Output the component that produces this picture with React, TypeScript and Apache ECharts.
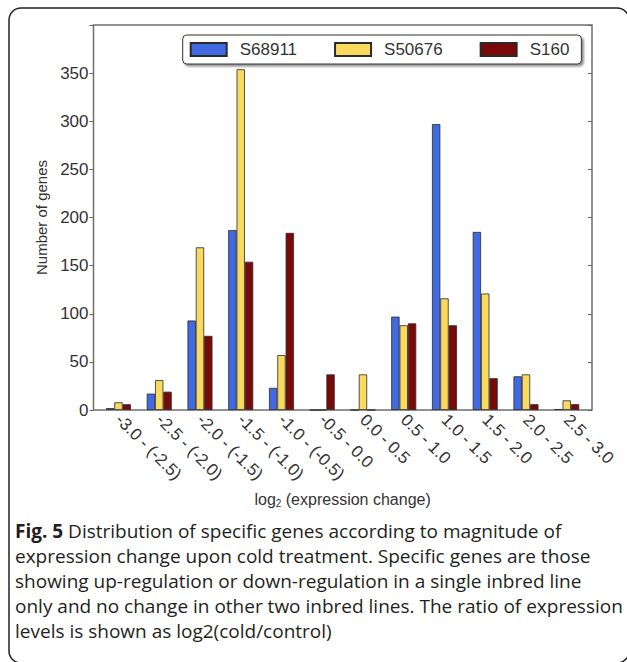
import React, { useEffect, useRef } from "react";
import * as echarts from "echarts";

// log2(cold/control) bins
const categories = [
  "-3.0 - (-2.5)",
  "-2.5 - (-2.0)",
  "-2.0 - (-1.5)",
  "-1.5 - (-1.0)",
  "-1.0 - (-0.5)",
  "-0.5 - 0.0",
  "0.0 - 0.5",
  "0.5 - 1.0",
  "1.0 - 1.5",
  "1.5 - 2.0",
  "2.0 - 2.5",
  "2.5 - 3.0",
];

// Number of specific genes per bin for each inbred line
const s68911 = [2, 17, 93, 187, 23, 0, 0, 97, 297, 185, 35, 1];
const s50676 = [8, 31, 169, 354, 57, 0, 37, 88, 116, 121, 37, 10];
const s160 = [6, 19, 77, 154, 184, 37, 0, 90, 88, 33, 6, 6];

const seriesNames = ["S68911", "S50676", "S160"];
const seriesColors = ["#4169e1", "#f9da5f", "#7a0a0a"];

const captionLines = [
  "{b|Fig. 5} Distribution of specific genes according to magnitude of",
  "expression change upon cold treatment. Specific genes are those",
  "showing up-regulation or down-regulation in a single inbred line",
  "only and no change in other two inbred lines. The ratio of expression",
  "levels is shown as log2(cold/control)",
];

const FONT = "'Liberation Sans', Arial, Helvetica, sans-serif";
const CAPTION_FONT = "'Open Sans', 'Noto Sans', sans-serif";

export default function App() {
  const ref = useRef<HTMLDivElement>(null);

  useEffect(() => {
    if (!ref.current) return;
    const chart = echarts.init(ref.current, undefined, { renderer: "svg" });

    const values = [s68911, s50676, s160];

    const option: any = {
      animation: false,
      backgroundColor: "#ffffff",
      textStyle: { fontFamily: FONT },
      grid: [
        // axes frame
        {
          left: 93.5,
          right: 35,
          top: 25,
          bottom: 252,
          show: true,
          borderColor: "#6e6e6e",
          borderWidth: 1.5,
          backgroundColor: "transparent",
        },
        // bar area (slightly inset like the plotting library's x limits)
        { left: 98.1, right: 39.9, top: 25, bottom: 252 },
      ],
      xAxis: [
        { gridIndex: 0, type: "value", show: false, min: 0, max: 1 },
        {
          gridIndex: 1,
          type: "category",
          data: categories,
          axisLine: { show: false },
          axisTick: { show: false },
          axisLabel: {
            interval: 0,
            rotate: -45,
            margin: 7,
            fontSize: 17,
            color: "#333",
            fontFamily: FONT,
          },
          name: "log{s|2} (expression change)",
          nameLocation: "middle",
          nameGap: 80,
          nameTextStyle: {
            fontSize: 16,
            color: "#333",
            fontFamily: FONT,
            rich: { s: { fontSize: 10, verticalAlign: "bottom", padding: [8, 0, 0, 0], color: "#333" } },
          },
        },
      ],
      yAxis: [
        {
          gridIndex: 0,
          type: "value",
          min: 0,
          max: 400,
          interval: 50,
          axisLine: { show: false },
          axisTick: { show: true, inside: false, length: 4, lineStyle: { color: "#666" } },
          axisLabel: {
            fontSize: 17,
            color: "#333",
            margin: 5,
            fontFamily: FONT,
            formatter: (v: number) => (v >= 400 ? "" : String(v)),
          },
          splitLine: { show: false },
          name: "Number of genes",
          nameLocation: "middle",
          nameGap: 44,
          nameTextStyle: { fontSize: 15, color: "#333", fontFamily: FONT },
        },
        {
          gridIndex: 0,
          type: "value",
          position: "right",
          min: 0,
          max: 400,
          interval: 50,
          axisLine: { show: false },
          axisTick: { show: true, inside: true, length: 4, lineStyle: { color: "#666" } },
          axisLabel: { show: false },
          splitLine: { show: false },
        },
        { gridIndex: 1, type: "value", min: 0, max: 400, show: false },
      ],
      legend: {
        data: seriesNames,
        left: 182.7,
        top: 35,
        orient: "horizontal",
        icon: "rect",
        itemWidth: 36,
        itemHeight: 13,
        itemGap: 37,
        padding: [6, 12, 6, 7],
        backgroundColor: "#ffffff",
        borderColor: "#333",
        borderWidth: 1,
        borderRadius: 4,
        shadowColor: "rgba(0,0,0,0.45)",
        shadowBlur: 2,
        shadowOffsetX: 2,
        shadowOffsetY: 2,
        textStyle: { fontSize: 17, color: "#333", fontFamily: FONT, padding: [0, 0, 0, 8] },
      },
      series: seriesNames.map((name, i) => ({
        name,
        type: "bar",
        xAxisIndex: 1,
        yAxisIndex: 2,
        data: values[i],
        barWidth: 8.33,
        barGap: "0%",
        itemStyle: { color: seriesColors[i], borderColor: "#2a2a2a", borderWidth: 0.8 },
      })),
      graphic: [
        {
          type: "rect",
          shape: { x: 9, y: 8, width: 620, height: 655, r: 12 },
          style: { fill: "none", stroke: "#222", lineWidth: 1.5 },
          silent: true,
        },
        ...captionLines.map((line, i) => ({
          type: "text",
          left: 15,
          top: 521 + i * 25,
          style: {
            text: line,
            fontSize: 19,
            fontFamily: CAPTION_FONT,
            fill: "#231f20",
            rich: { b: { fontWeight: "bold", fontSize: 19, fontFamily: CAPTION_FONT, fill: "#231f20" } },
          },
          silent: true,
        })),
      ],
    };

    chart.setOption(option);
    return () => chart.dispose();
  }, []);

  return (
    <div
      ref={ref}
      style={{ position: "fixed", left: 0, top: 0, width: 627, height: 662 }}
    />
  );
}
